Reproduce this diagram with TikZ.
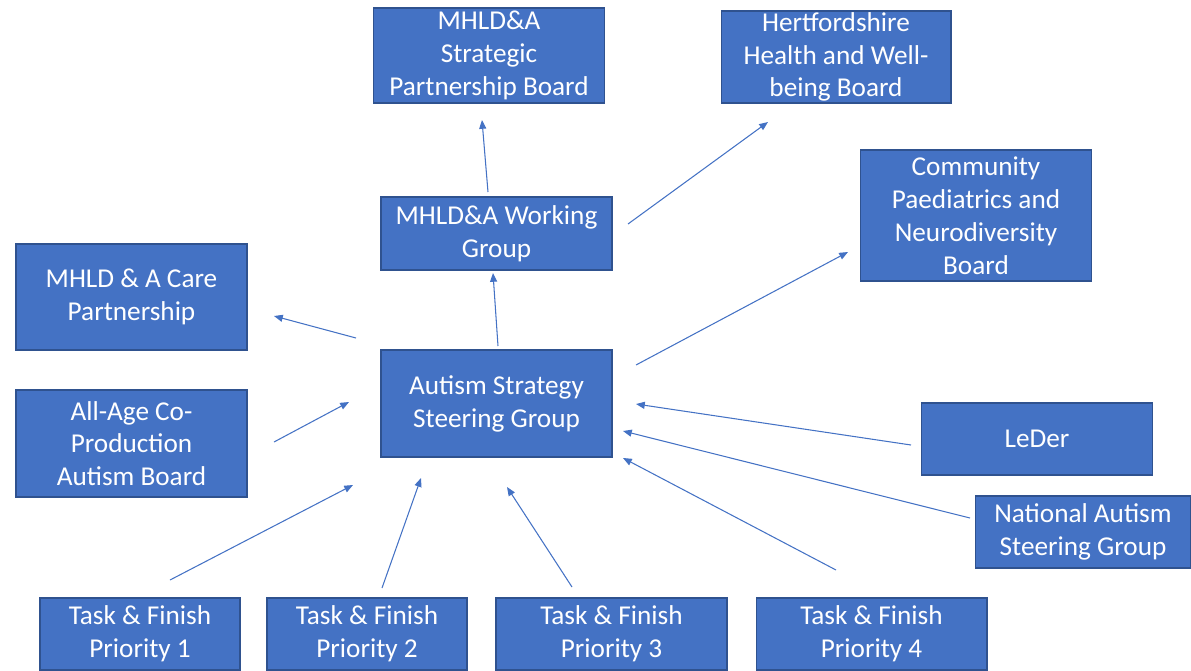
\documentclass[tikz,border=0pt]{standalone}
\usepackage{fontspec}
\setmainfont{Carlito}
\usetikzlibrary{arrows.meta}
\definecolor{boxblue}{HTML}{4472C4}
\definecolor{boxedge}{HTML}{2F528F}
\begin{document}
\begin{tikzpicture}[x=0.02cm,y=-0.02cm]
        \tikzstyle{every node}=[fill=boxblue,draw=boxedge,line width=0.6pt,text=white,align=center,inner sep=0pt,
            font=\fontsize{15.5}{18.7}\selectfont]
        \tikzstyle{wide}=[minimum width=4.62cm]
        \tikzstyle{link}=[draw=boxblue,line width=0.6pt,-{Triangle[length=5pt,width=4pt]}]
        \useasboundingbox (0,0) rectangle (1191,670);
        \node[wide,minimum height=1.9cm] (strat) at (489,55.5) {MHLD\&A\\Strategic\\Partnership Board};
        \node[minimum width=4.6cm,minimum height=1.84cm] (hwb) at (836,57) {Hertfordshire\\Health and Well-\\being Board};
        \node[wide,minimum height=1.46cm] (work) at (496.5,233.5) {MHLD\&A Working\\Group};
        \node[wide,minimum height=2.62cm] (cpnd) at (976,215.5) {Community\\Paediatrics and\\Neurodiversity\\Board};
        \node[wide,minimum height=2.12cm] (care) at (131.5,297) {MHLD \& A Care\\Partnership};
        \node[wide,minimum height=2.14cm] (asg) at (496.5,403.5) {Autism Strategy\\Steering Group};
        \node[wide,minimum height=2.14cm] (coprod) at (131.5,443.5) {All-Age Co-\\Production\\Autism Board};
        \node[wide,minimum height=1.44cm] (leder) at (1037,439) {LeDer};
        \node[minimum width=4.32cm,minimum height=1.44cm] (nasg) at (1083,532) {National Autism\\Steering Group};
        \node[minimum width=4cm,minimum height=1.44cm] (tf1) at (140,634) {Task \& Finish\\Priority 1};
        \node[minimum width=4cm,minimum height=1.44cm] (tf2) at (367,634) {Task \& Finish\\Priority 2};
        \node[wide,minimum height=1.44cm] (tf3) at (611.5,634) {Task \& Finish\\Priority 3};
        \node[wide,minimum height=1.44cm] (tf4) at (871.5,634) {Task \& Finish\\Priority 4};
        \coordinate (w1) at (488,192); \coordinate (s1) at (482,120);
        \coordinate (w2) at (628,224); \coordinate (h1) at (768,122);
        \coordinate (a1) at (498,346); \coordinate (w3) at (493,273);
        \coordinate (a2) at (356,338); \coordinate (c1) at (274,316);
        \coordinate (a3) at (636,365); \coordinate (p1) at (848,252);
        \coordinate (o1) at (274,442); \coordinate (a4) at (349,402);
        \coordinate (l1) at (911,445); \coordinate (a5) at (636,404);
        \coordinate (n1) at (970,518); \coordinate (a6) at (623,431);
        \coordinate (t4) at (836,570); \coordinate (a7) at (623,458);
        \coordinate (t1) at (170,580); \coordinate (a8) at (353,485);
        \coordinate (t2) at (382,588); \coordinate (a9) at (421,478);
        \coordinate (t3) at (572,587); \coordinate (a10) at (507,487);
        \draw[link] (w1) -- (s1);
        \draw[link] (w2) -- (h1);
        \draw[link] (a1) -- (w3);
        \draw[link] (a2) -- (c1);
        \draw[link] (a3) -- (p1);
        \draw[link] (o1) -- (a4);
        \draw[link] (l1) -- (a5);
        \draw[link] (n1) -- (a6);
        \draw[link] (t4) -- (a7);
        \draw[link] (t1) -- (a8);
        \draw[link] (t2) -- (a9);
        \draw[link] (t3) -- (a10);
    \end{tikzpicture}
\end{document}
